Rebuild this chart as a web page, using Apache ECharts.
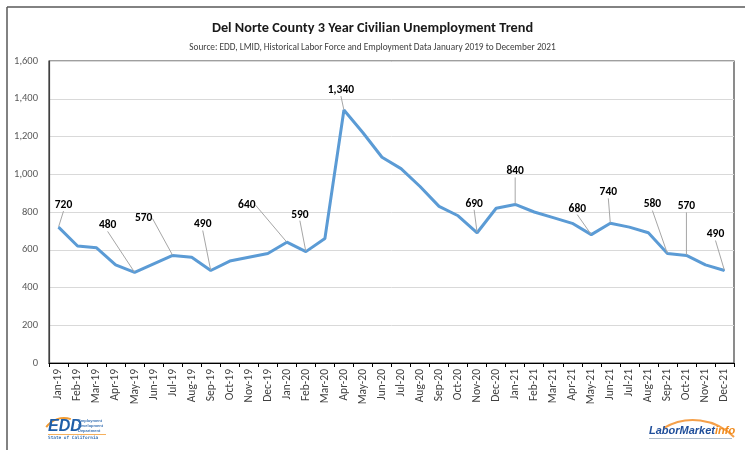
<!DOCTYPE html>
<html>
<head>
<meta charset="utf-8">
<script src="https://cdn.jsdelivr.net/npm/echarts@6/dist/echarts.min.js"></script>
<style>
html,body{margin:0;padding:0;background:#fff;}
#chart{width:745px;height:450px;}
</style>
</head>
<body>
<div id="chart"></div>
<script>
const categories = ["Jan-19","Feb-19","Mar-19","Apr-19","May-19","Jun-19","Jul-19","Aug-19","Sep-19","Oct-19","Nov-19","Dec-19",
  "Jan-20","Feb-20","Mar-20","Apr-20","May-20","Jun-20","Jul-20","Aug-20","Sep-20","Oct-20","Nov-20","Dec-20",
  "Jan-21","Feb-21","Mar-21","Apr-21","May-21","Jun-21","Jul-21","Aug-21","Sep-21","Oct-21","Nov-21","Dec-21"];
const unemployment = [720,620,610,520,480,525,570,560,490,540,560,580,
  640,590,660,1340,1220,1090,1030,935,830,780,690,820,
  840,800,770,740,680,740,720,690,580,570,520,490];
const labeledMonths = ["Jan-19","May-19","Jul-19","Sep-19","Jan-20","Feb-20","Apr-20","Nov-20","Jan-21","May-21","Jun-21","Sep-21","Oct-21","Dec-21"];
const yTicks = [0,200,400,600,800,1000,1200,1400,1600];
const titleText = "Del Norte County 3 Year Civilian Unemployment Trend";
const subtitleText = "Source: EDD, LMID, Historical Labor Force and Employment Data January 2019 to December 2021";

// label offsets (style only): [dx, dy] from the point
const labelOffsets = {
  "Jan-19":[5,-22],"May-19":[-27,-47],"Jul-19":[-29,-37],"Sep-19":[-8,-46],
  "Jan-20":[-40,-37],"Feb-20":[-6,-37],"Apr-20":[-3,-20],"Nov-20":[-3,-29],
  "Jan-21":[0,-33],"May-21":[-14,-26],"Jun-21":[-2,-31],"Sep-21":[-15,-49],
  "Oct-21":[0,-49],"Dec-21":[-9,-36]
};

const fmt = v => Number(v).toLocaleString('en-US');
const FONT = "Carlito, 'Liberation Sans Narrow', 'Open Sans', sans-serif";

const seriesData = unemployment.map((v,i) => {
  const item = {value: v};
  if (labeledMonths.includes(categories[i])) {
    item.label = {show: true};
    item.labelLine = {show: true};
  }
  return item;
});

const chart = echarts.init(document.getElementById('chart'), null, {renderer:'canvas'});
chart.setOption({
  backgroundColor: '#fff',
  animation: false,
  title: [
    {text: titleText, left: 'center', top: 16,
     textStyle: {fontFamily: FONT, fontSize: 14.3, fontWeight: 'bold', color: '#1a1a1a'}},
    {text: subtitleText, left: 'center', top: 38,
     textStyle: {fontFamily: FONT, fontSize: 9.3, fontWeight: 'normal', color: '#404040'}}
  ],
  grid: {left: 49, right: 11, top: 61, bottom: 87, show: true, borderColor: '#404040', borderWidth: 1.2, containLabel: false},
  xAxis: {
    type: 'category', data: categories, boundaryGap: true,
    axisLine: {lineStyle: {color: '#000', width: 1.2}},
    axisTick: {show: true, length: 4, lineStyle: {color: '#000'}},
    axisLabel: {interval: 0, rotate: 90, color: '#404040', fontFamily: FONT, fontSize: 11.5, margin: 6}
  },
  yAxis: {
    type: 'value', min: yTicks[0], max: yTicks[yTicks.length-1], interval: 200,
    axisLine: {show: true, lineStyle: {color: '#404040', width: 1.2}},
    axisTick: {show: false},
    splitLine: {lineStyle: {color: '#d9d9d9', width: 1}},
    axisLabel: {color: '#595959', fontFamily: FONT, fontSize: 10.5, margin: 11, formatter: v => fmt(v)}
  },
  series: [{
    type: 'line', data: seriesData,
    symbol: 'circle', symbolSize: 1, showSymbol: true,
    itemStyle: {color: '#5b9bd5'},
    lineStyle: {color: '#5b9bd5', width: 3},
    label: {show: false, position: 'inside', color: '#000', fontFamily: FONT, fontWeight: 'bold', fontSize: 11.5,
            formatter: p => fmt(p.value)},
    labelLine: {show: false, lineStyle: {color: '#a6a6a6', width: 1}},
    labelLayout: function (params) {
      const off = labelOffsets[categories[params.dataIndex]];
      if (!off) return {};
      return {dx: off[0], dy: off[1]};
    }
  }],
  graphic: [
    {type: 'line', shape: {x1: 7, y1: 7, x2: 745, y2: 7}, style: {stroke: '#595959', lineWidth: 1.5}, silent: true},
    {type: 'line', shape: {x1: 7, y1: 7, x2: 7, y2: 450}, style: {stroke: '#595959', lineWidth: 1.5}, silent: true},
    // EDD logo (approximation)
    {type: 'arc', shape: {cx: 64, cy: 440, r: 22, startAngle: Math.PI*1.2, endAngle: Math.PI*1.6}, style: {stroke: '#f39c33', lineWidth: 2, fill: null}},
    {type: 'text', left: 48, top: 419, style: {text: 'EDD', font: "italic bold 16px 'Liberation Sans', sans-serif", fill: '#1f5ea8'}},
    {type: 'text', left: 78, top: 419, style: {text: 'Employment\nDevelopment\nDepartment', font: "bold 4px 'Liberation Sans', sans-serif", fill: '#3a73b5', lineHeight: 4.6}},
    {type: 'line', shape: {x1: 48, y1: 434.5, x2: 106, y2: 434.5}, style: {stroke: '#f39c33', lineWidth: 0.8}},
    {type: 'text', left: 48, top: 435.5, style: {text: 'State of California', font: "bold 4.4px 'DejaVu Sans Mono', monospace", fill: '#3a73b5'}},
    // LaborMarketInfo logo (approximation)
    {type: 'arc', shape: {cx: 693, cy: 478, r: 58, startAngle: Math.PI*1.33, endAngle: Math.PI*1.75}, style: {stroke: '#f5a04a', lineWidth: 2, fill: null}},
    {type: 'text', left: 649, top: 425, style: {
      text: '{a|LaborMarket}{b|info}',
      rich: {
        a: {font: "italic bold 11px 'Liberation Sans Narrow', 'Liberation Sans', sans-serif", fill: '#1f4e9a'},
        b: {font: "italic bold 11px 'Liberation Sans Narrow', 'Liberation Sans', sans-serif", fill: '#f08a1c'}
      }}},
    {type: 'line', shape: {x1: 649, y1: 438.5, x2: 732, y2: 438.5}, style: {stroke: '#9ab', lineWidth: 0.8}}
  ]
});
</script>
</body>
</html>
